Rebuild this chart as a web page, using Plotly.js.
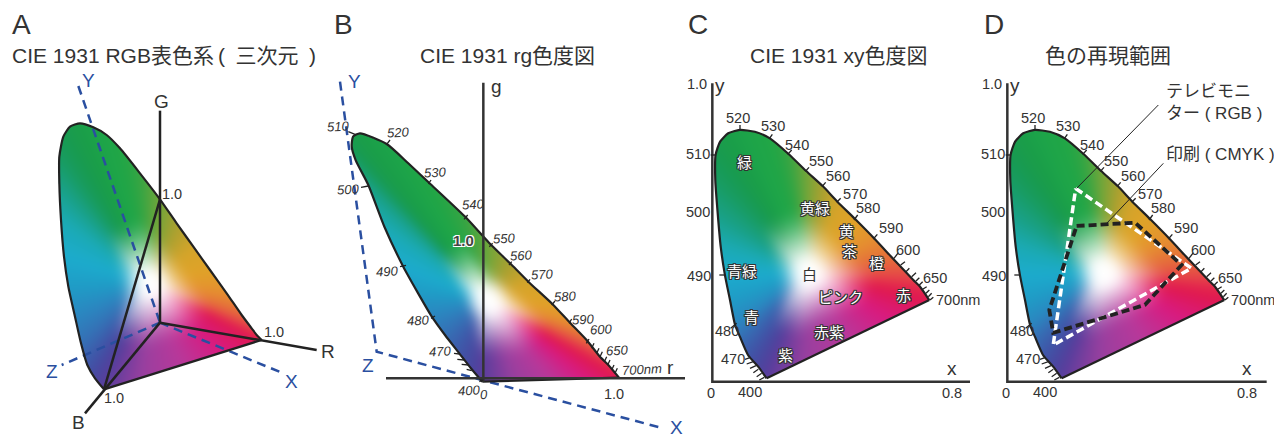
<!DOCTYPE html>
<html><head><meta charset="utf-8">
<script src="https://cdn.plot.ly/plotly-3.0.1.min.js"></script>
<style>html,body{margin:0;padding:0;background:#fff}#g{width:1274px;height:437px}</style></head>
<body><div id="g"></div>
<script>
// Spectral locus (same 26 stations in each panel)
const xyX=[.181,.153,.119,.092,.076,.059,.042,.028,.018,.010,.011,.026,.053,.092,.142,.192,.254,.312,.368,.417,.476,.539,.609,.670,.692,.723];
const xyY=[.011,.050,.089,.150,.189,.272,.356,.450,.561,.672,.756,.800,.828,.839,.833,.811,.759,.703,.652,.600,.542,.478,.403,.339,.317,.272];
const rgR=[-.007,-.086,-.178,-.284,-.383,-.487,-.593,-.733,-.852,-.946,-.975,-.965,-.914,-.716,-.556,-.402,-.136,.042,.198,.333,.511,.642,.765,.864,.926,1.005];
const rgG=[-.025,.067,.185,.321,.459,.637,.827,1.123,1.432,1.617,1.716,1.790,1.815,1.736,1.593,1.449,1.198,1.005,.852,.716,.551,.412,.284,.160,.099,.005];
const planeU=[-168,-195,-218,-237,-255,-275,-288,-297,-302,-302,-290,-270,-240,-200,-160,-120,-60,0,50,100,150,200,245,275,290,305];
const planeV=[-200,-167,-127,-62,18,108,198,308,418,498,558,588,598,586,563,523,448,370,298,228,158,88,23,-17,-37,-52];
// Colour along the locus, along the purple line, and how far from white each colour is reached
const edgeColors=['#5a3d9c','#4a469f','#3f56a8','#3570b5','#2b86c0','#1f9cc6','#1cabcd','#1baab5','#19a085','#189c63','#179a52','#1a9c4c','#1a9e48','#1ca349','#1fa548','#20a646','#36a443','#70a63a','#a8a030','#d4a42a','#e0a228','#e58f30','#e5683c','#e5404a','#e42a4c','#e0184f'];
const purpleColors=['#e0184f','#d81b80','#b8389a','#9a3f9f','#5a3d9c'];
const reach=[.8,.75,.6,.5,.45,.42,.42,.45,.5,.55,.6,.6,.6,.6,.6,.6,.6,.65,.7,.7,.7,.7,.7,.7,.7,.7];
const whiteA=[-30,118], whiteB=[.037,.578], whiteC=[.32,.361];
// Gamuts of panel D
const rgbX=[.228,.614,.153,.228], rgbY=[.644,.378,.122,.644];
const cmykX=[.231,.426,.581,.459,.153,.140,.231], cmykY=[.519,.530,.389,.256,.163,.239,.519];

const INK='#333', BLUE='#2a4fa0', FONT='"Liberation Sans","Noto Sans CJK JP",sans-serif';
const hex=h=>[1,3,5].map(i=>parseInt(h.substr(i,2),16));
const edgeRGB=edgeColors.map(hex), purpleRGB=purpleColors.map(hex);
const mix=(a,b,s)=>a.map((v,i)=>v+(b[i]-v)*s);
const smooth=q=>{q=Math.min(1,Math.max(0,q));return q*q*(3-2*q);};
function edgeColorAt(i,u){
  if(i<25) return mix(edgeRGB[i],edgeRGB[i+1],u);
  const p=u*(purpleRGB.length-1), k=Math.min(Math.floor(p),purpleRGB.length-2);
  return mix(purpleRGB[k],purpleRGB[k+1],p-k);
}
function blur(F,nx,ny,r){
  for(let pass=0;pass<3;pass++){
    const a=new Float32Array(F.length);
    for(let j=0;j<ny;j++)for(let k=0;k<nx;k++){let s=0,c=0;for(let m=Math.max(0,k-r);m<=Math.min(nx-1,k+r);m++){s+=F[j*nx+m];c++;}a[j*nx+k]=s/c;}
    for(let j=0;j<ny;j++)for(let k=0;k<nx;k++){let s=0,c=0;for(let m=Math.max(0,j-r);m<=Math.min(ny-1,j+r);m++){s+=a[m*nx+k];c++;}F[j*nx+k]=s/c;}
  }
}
function fillImage(px,py,w,dx,dy,xa,ya){
  const n=px.length, x0=Math.min(...px), x1=Math.max(...px), y0=Math.min(...py), y1=Math.max(...py);
  const nx=Math.ceil((x1-x0)/dx)+1, ny=Math.ceil((y1-y0)/dy)+1;
  const R=new Float32Array(nx*ny).fill(255),G=new Float32Array(nx*ny).fill(255),B=new Float32Array(nx*ny).fill(255),A=new Uint8Array(nx*ny);
  for(let j=0;j<ny;j++){ const Y=y0+j*dy;
    for(let k=0;k<nx;k++){ const X=x0+k*dx, d1=X-w[0], d2=Y-w[1];
      for(let i=0;i<n;i++){ const b=(i+1)%n, e1=px[b]-px[i], e2=py[b]-py[i];
        const det=d1*e2-d2*e1; if(Math.abs(det)<1e-12) continue;
        const a=((px[i]-w[0])*e2-(py[i]-w[1])*e1)/det, u=((px[i]-w[0])*d2-(py[i]-w[1])*d1)/det;
        if(a>1e-9 && u>=0 && u<=1){ const t=1/a;
          const r=i<25?reach[i]+(reach[i+1]-reach[i])*u:.75, dist=Math.hypot(d1/dx,d2/dy);
          const s=smooth(Math.max(t/r,dist/70))*smooth(dist/24);
          const c=mix([255,255,255],edgeColorAt(i,u),s);
          R[j*nx+k]=c[0];G[j*nx+k]=c[1];B[j*nx+k]=c[2];A[j*nx+k]=t<=1?1:0;
          break; }
      }
      if(d1===0&&d2===0) A[j*nx+k]=1;
    }
  }
  blur(R,nx,ny,4);blur(G,nx,ny,4);blur(B,nx,ny,4);
  const z=[];
  for(let j=0;j<ny;j++){const row=[];for(let k=0;k<nx;k++){const q=j*nx+k;row.push([R[q],G[q],B[q],A[q]]);}z.push(row);}
  return {type:'image',colormodel:'rgba',z,x0,y0,dx,dy,xaxis:xa,yaxis:ya,hoverinfo:'skip'};
}
const traces=[], ann=[];
const P={
 a:{xa:'x',ya:'y',f:(x,y)=>[x-480,968-y]},
 b:{xa:'x2',ya:'y2',f:(x,y)=>[(x-475)/405,(1135-y)/405]},
 c:{xa:'x3',ya:'y3',f:(x,y)=>[(x-96.9)/900,(1145-y)/900]},
 d:{xa:'x4',ya:'y4',f:(x,y)=>[(x-96.9)/900,(1145-y)/900]}
};
function line(p,pts,color,width,dash,shape){
  const q=pts.map(v=>P[p].f(v[0],v[1]));
  traces.push({type:'scatter',mode:'lines',x:q.map(v=>v[0]),y:q.map(v=>v[1]),xaxis:P[p].xa,yaxis:P[p].ya,
    line:{color,width,dash:dash||'solid',shape:shape||'linear'},hoverinfo:'skip',cliponaxis:false,showlegend:false});
}
function dataLine(p,x,y,color,width,dash,shape){
  traces.push({type:'scatter',mode:'lines',x,y,xaxis:P[p].xa,yaxis:P[p].ya,
    line:{color,width,dash:dash||'solid',shape:shape||'linear',smoothing:.6},hoverinfo:'skip',cliponaxis:false,showlegend:false});
}
function ticks(p,segs,w){ segs.forEach(s=>line(p,[[s[0],s[1]],[s[2],s[3]]],'#222',w||1.3)); }
function label(p,x,y,text,o){ o=o||{}; const q=P[p].f(x,y);
  ann.push({xref:P[p].xa,yref:P[p].ya,x:q[0],y:q[1],text,showarrow:false,xanchor:o.anchor||'center',yanchor:'middle',textangle:o.angle||0,
    font:{family:o.family||FONT,size:o.size||14.5,color:o.color||INK,style:o.style||'normal',weight:o.weight||'normal',shadow:o.shadow||'none'}});
}
function title(px,py,text,size,anchor){
  ann.push({xref:'paper',yref:'paper',x:px/1274,y:1-py/437,text,showarrow:false,xanchor:anchor||'center',yanchor:'middle',font:{family:FONT,size,color:INK}});
}
traces.push(fillImage(planeU,planeV,whiteA,3,3,'x','y'));
traces.push(fillImage(rgR,rgG,whiteB,3/405,3/405,'x2','y2'));
traces.push(fillImage(xyX,xyY,whiteC,1/300,1/300,'x3','y3'));
traces.push(fillImage(xyX,xyY,whiteC,1/300,1/300,'x4','y4'));
const DASH='9px,6px';

// Panel A
line('a',[[235,258],[480,968]],BLUE,2.5,DASH);
line('a',[[480,968],[850,1120]],BLUE,2.5,DASH);
line('a',[[480,968],[185,1095]],BLUE,2.5,DASH);
dataLine('a',planeU,planeV,'#222',2.2,'solid','spline');
line('a',[[312,1168],[785,1020]],'#222',2.2);
line('a',[[480,332],[480,968]],'#222',2.5);
line('a',[[480,968],[950,1050]],'#222',2.5);
line('a',[[480,968],[255,1240]],'#222',2.5);
line('a',[[480,598],[312,1168]],'#222',2.5);
[[265,240,'Y',BLUE],[485,303,'G',INK],[983,1053,'R',INK],[875,1143,'X',BLUE],[155,1113,'Z',BLUE],[235,1268,'B',INK]].forEach(v=>label('a',v[0],v[1],v[2],{size:19,color:v[3]}));
[[515,583],[822,996],[343,1193]].forEach(v=>label('a',v[0],v[1],'1.0'));

// Panel B
line('b',[[45,245],[155,1055],[470,1140],[1015,1285]],BLUE,2.5,DASH);
dataLine('b',rgR,rgG,'#222',2.2,'solid','spline');
line('b',[[472,1145],[882,1133]],'#222',2.2);
line('b',[[475,248],[475,1145]],'#333',2.5);
line('b',[[183,1135],[1080,1135]],'#333',2.5);
ticks('b',[[70,395,90,403],[108,562,130,558],[195,420,185,433],[318,540,310,552],[428,645,417,658],[503,730,493,740],[560,785,552,795],[615,838,607,848],[690,903,680,915],[740,957,732,970],
 [792,1017,784,1030],[807,1030,800,1045],[822,1045,815,1060],[832,1055,825,1070],[845,1070,838,1085],[855,1080,848,1095],[867,1095,860,1110],[877,1105,870,1120],
 [387,1060,403,1062],[397,1078,417,1080],[410,1093,430,1095],[425,1108,440,1112],[225,800,243,796],[318,955,330,948],[463,1145,475,1140]]);
[[38,380,'510'],[220,397,'520'],[330,518,'530'],[445,612,'540'],[538,715,'550'],[588,767,'560'],[652,822,'570'],[720,890,'580'],[773,957,'590'],[827,987,'600'],[877,1050,'650'],[950,1107,'700nm'],[70,568,'500'],[187,813,'490'],[278,962,'480'],[345,1055,'470'],[433,1172,'400'],[478,1183,'0']].forEach(v=>label('b',v[0],v[1],v[2],{size:13,style:'italic',angle:-3}));
[[88,243,'Y',BLUE],[130,1095,'Z',BLUE],[1055,1282,'X',BLUE],[515,258,'g',INK],[1037,1103,'r',INK]].forEach(v=>label('b',v[0],v[1],v[2],{size:19,color:v[3]}));
label('b',866,1183,'1.0');
label('b',415,720,'1.0',{size:15,weight:'bold',color:'#444',shadow:'-1px -1px 0 #fff,1px -1px 0 #fff,-1px 1px 0 #fff,1px 1px 0 #fff'});

// Panels C and D: shared axes, locus and wavelength marks
const markTicks=[[180,375,180,391],[277,403,268,416],[335,450,323,463],[387,502,376,514],[437,547,426,560],[482,595,470,607],[533,645,522,660],[592,703,580,717],
 [655,758,642,775],[675,785,662,795],[688,805,678,815],[708,818,695,830],[718,833,708,843],[728,845,718,855],[740,860,728,868],[748,870,738,880],[755,880,745,890],[760,892,750,900],
 [92,465,108,465],[118,825,136,825],[152,985,170,970],[195,1078,212,1072],[200,1092,220,1085],[210,1105,228,1097],[220,1118,235,1108],[230,1130,245,1120],[238,1140,253,1132]];
const markLabels=[[175,355,'520'],[280,378,'530'],[350,435,'540'],[423,484,'550'],[475,528,'560'],[525,583,'570'],[565,623,'580'],[632,684,'590'],[684,750,'600'],[766,834,'650'],[55,463,'510'],[55,636,'500'],[57,827,'490'],[140,993,'480'],[158,1077,'470'],[210,1177,'400'],[93,1180,'0'],[815,1180,'0.8'],[52,252,'1.0']];
['c','d'].forEach(p=>{
  dataLine(p,xyX,xyY,'#222',2.2,'solid','spline');
  line(p,[[748,900],[260,1135]],'#222',2.2);
  line(p,[[97,250],[97,1145],[p==='c'?870:875,1145]],'#333',2.5);
  ticks(p,markTicks);
  markLabels.forEach(v=>label(p,v[0],v[1],v[2]));
  label(p,762,900,'700nm',{anchor:'left'});
  label(p,120,256,'y',{size:19}); label(p,815,1106,'x',{size:19});
});
const halo='-1px -1px 0 #333,1px -1px 0 #333,-1px 1px 0 #333,1px 1px 0 #333,0 -1px 0 #333,0 1px 0 #333,-1px 0 0 #333,1px 0 0 #333';
[[193,483,'緑'],[405,623,'黄緑'],[500,690,'黄'],[507,752,'茶'],[590,787,'橙'],[187,810,'青緑'],[480,890,'ピンク'],[670,884,'赤'],[213,950,'青'],[448,995,'赤紫'],[317,1062,'紫']].forEach(v=>label('c',v[0],v[1],v[2],{size:15,color:'#fff',shadow:halo,family:'"Noto Sans CJK JP",sans-serif'}));
label('c',387,820,'白',{size:15,color:'#333',family:'"Noto Sans CJK JP",sans-serif'});

// Panel D gamuts
dataLine('d',rgbX,rgbY,'#fff',3.5,'8px,4px');
dataLine('d',cmykX,cmykY,'#222',3.8,'8px,4px');
line('d',[[305,565],[550,315]],'#222',1);
line('d',[[395,670],[565,490]],'#222',1);
label('d',568,275,'テレビモニ',{anchor:'left',size:17});
label('d',568,340,'ター ( RGB )',{anchor:'left',size:17});
label('d',568,462,'印刷 ( CMYK )',{anchor:'left',size:17});

// Panel letters and titles
[[10,'A'],[332,'B'],[686,'C'],[982,'D']].forEach(v=>title(v[0],24,v[1],28,'left'));
title(10,55,'CIE 1931 RGB表色系\u2009(\u2002三次元\u2002)',21,'left');
title(507.5,55,'CIE 1931 rg色度図',21);
title(838,55,'CIE 1931 xy色度図',21);
title(1107.5,55,'色の再現範囲',21);

const ax=(dom,range,anchor)=>({domain:dom,range,anchor,visible:false,fixedrange:true,constrain:'range',scaleanchor:false,autorange:false});
const dx=(a,b)=>[a/1274,b/1274];
Plotly.newPlot('g',traces,{
  width:1274,height:437,margin:{l:0,r:0,t:0,b:0},paper_bgcolor:'#fff',plot_bgcolor:'rgba(0,0,0,0)',showlegend:false,
  xaxis:ax(dx(0,340),[-480,540],'y'),yaxis:ax([0,1],[-343,968],'x'),
  xaxis2:ax(dx(325,685),[-475/405,605/405],'y2'),yaxis2:ax([0,1],[-176/405,1135/405],'x2'),
  xaxis3:ax(dx(680,970),[-96.9/900,773.1/900],'y3'),yaxis3:ax([0,1],[-166/900,1145/900],'x3'),
  xaxis4:ax(dx(975,1274),[-96.9/900,800.1/900],'y4'),yaxis4:ax([0,1],[-166/900,1145/900],'x4'),
  annotations:ann,hovermode:false
},{staticPlot:true,displayModeBar:false});
</script></body></html>
